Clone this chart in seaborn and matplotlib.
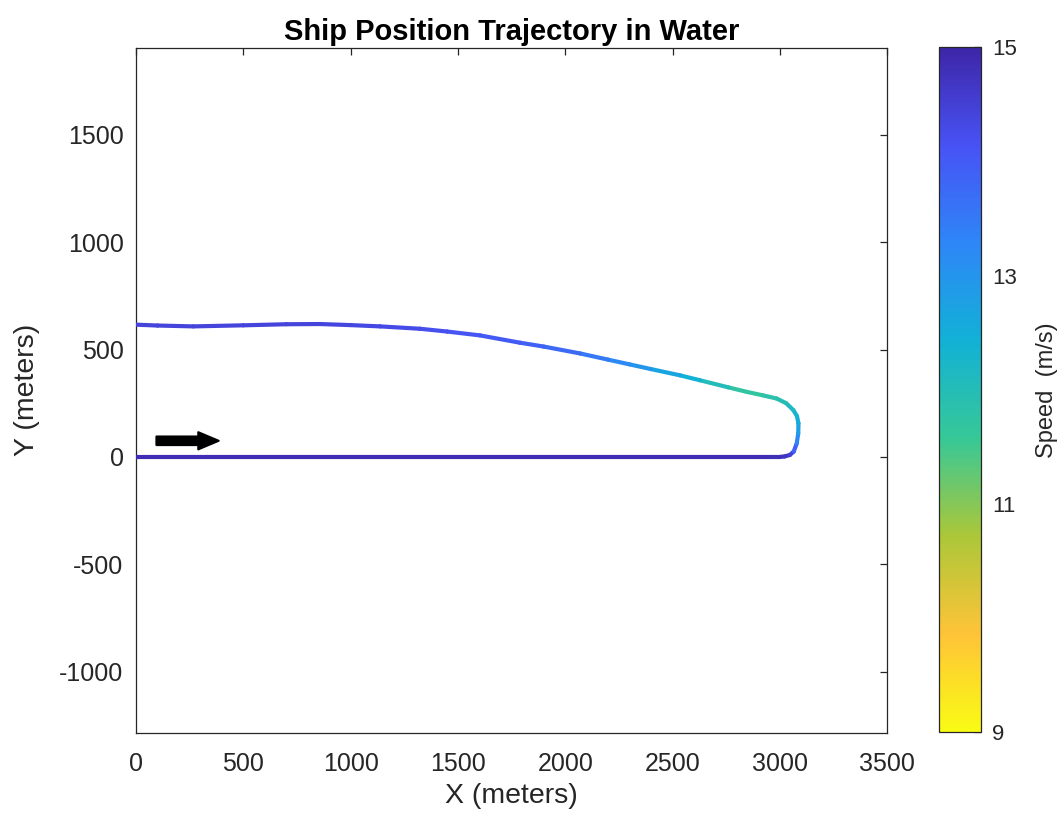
import numpy as np
import matplotlib
matplotlib.use('Agg')
import matplotlib.pyplot as plt
import seaborn as sns
import pandas as pd
from matplotlib.collections import LineCollection
from matplotlib.colors import LinearSegmentedColormap, Normalize
from matplotlib.cm import ScalarMappable

# ---- data ----
x_pos = [0, 1000, 2000, 2800, 2960, 3001, 3022, 3047, 3065, 3079, 3086, 3087, 3080,
         3063, 3030, 2985, 2920, 2846, 2760, 2628, 2535, 2400, 2300, 2200, 2069,
         1900, 1789, 1603, 1450, 1323, 1137, 1000, 857, 700, 500, 267, 100, 0]
y_pos = [0, 0, 0, 0, 0, 0, 2, 9, 25, 63, 110, 156, 190,
         218, 250, 272, 287, 303, 324, 357, 380, 409, 431, 453, 482,
         514, 532, 566, 584, 597, 608, 614, 619, 618, 613, 608, 612, 616]
speed = [14.85, 14.85, 14.85, 14.85, 14.85, 14.8, 14.75, 14.65, 14.3, 13.5, 13.0, 12.6, 12.4,
         12.25, 12.05, 11.9, 11.75, 11.65, 11.8, 12.25, 12.55, 12.85, 13.1, 13.35, 13.65,
         13.85, 13.95, 14.05, 14.15, 14.25, 14.3, 14.35, 14.4, 14.4, 14.4, 14.4, 14.4, 14.4]
x_ticks = [0, 500, 1000, 1500, 2000, 2500, 3000, 3500]
y_ticks = [-1000, -500, 0, 500, 1000, 1500]
cbar_ticks = [9, 11, 13, 15]
arrow_x = [95, 385]
arrow_y = [75, 75]

parula8 = [(0.2422, 0.1504, 0.6603), (0.2810, 0.3228, 0.9579), (0.1786, 0.5289, 0.9682),
           (0.0689, 0.6948, 0.8394), (0.2161, 0.7843, 0.5923), (0.6720, 0.7793, 0.2227),
           (0.9970, 0.7659, 0.2199), (0.9769, 0.9839, 0.0805)]

sns.set_theme(style='white')
plt.rcParams['font.family'] = ['Liberation Sans', 'DejaVu Sans']
plt.rcParams['axes.unicode_minus'] = False

fig = plt.figure(figsize=(10.62, 8.18), dpi=100)
ax = fig.add_axes([0.1281, 0.1043, 0.7072, 0.8370])
cax = fig.add_axes([0.8842, 0.1049, 0.0395, 0.8374])

cmap = LinearSegmentedColormap.from_list('parula', parula8, N=256).reversed()
norm = Normalize(9, 15)

df = pd.DataFrame(dict(x=x_pos, y=y_pos, speed=speed))
pts = np.column_stack([df['x'].values, df['y'].values])
segs = np.stack([pts[:-1], pts[1:]], axis=1)
seg_speed = (df['speed'].values[:-1] + df['speed'].values[1:]) / 2
lc = LineCollection(segs, cmap=cmap, norm=norm, linewidths=3.0,
                    capstyle='round', joinstyle='round', zorder=3)
lc.set_array(seg_speed)
ax.add_collection(lc)
sns.scatterplot(data=df, x='x', y='y', hue='speed', palette=cmap, hue_norm=norm,
                s=6, linewidth=0, legend=False, ax=ax, zorder=2)

ax.arrow(arrow_x[0], arrow_y[0], arrow_x[1] - arrow_x[0], arrow_y[1] - arrow_y[0],
         width=40, head_width=80, head_length=95, length_includes_head=True,
         fc='black', ec='black', lw=1.5, joinstyle='round', zorder=5)

ax.set_xlim(0, 3500)
ax.set_ylim(-1285, 1905)
ax.set_xticks(x_ticks)
ax.set_yticks(y_ticks)
ax.tick_params(axis='both', which='major', direction='in', length=5, width=0.9,
               top=True, right=True, labelsize=18, labelcolor='#262626',
               color='#262626')
ax.tick_params(axis='y', pad=9)
ax.tick_params(axis='x', pad=14)
for sp in ax.spines.values():
    sp.set_color('#262626')
    sp.set_linewidth(0.9)

ax.set_title('Ship Position Trajectory in Water', fontsize=21, fontweight='bold',
             pad=6, color='black')
ax.set_xlabel('X (meters)', fontsize=20.5, color='#262626')
ax.set_ylabel('Y (meters)', fontsize=20.5, color='#262626')
ax.xaxis.set_label_coords(0.5, -0.074)
ax.yaxis.set_label_coords(-0.128, 0.5)

cb = fig.colorbar(ScalarMappable(norm=norm, cmap=cmap), cax=cax, ticks=cbar_ticks)
cb.outline.set_edgecolor('#262626')
cb.outline.set_linewidth(0.9)
cax.tick_params(direction='in', length=5, width=0.9, labelsize=16, pad=8,
                labelcolor='#262626', color='#262626')
fig.text(1047 / 1062, 1 - 390 / 818, 'Speed  (m/s)', rotation=90, ha='center',
         va='center', fontsize=17, color='#262626')

fig.savefig('out.png', dpi=100)
